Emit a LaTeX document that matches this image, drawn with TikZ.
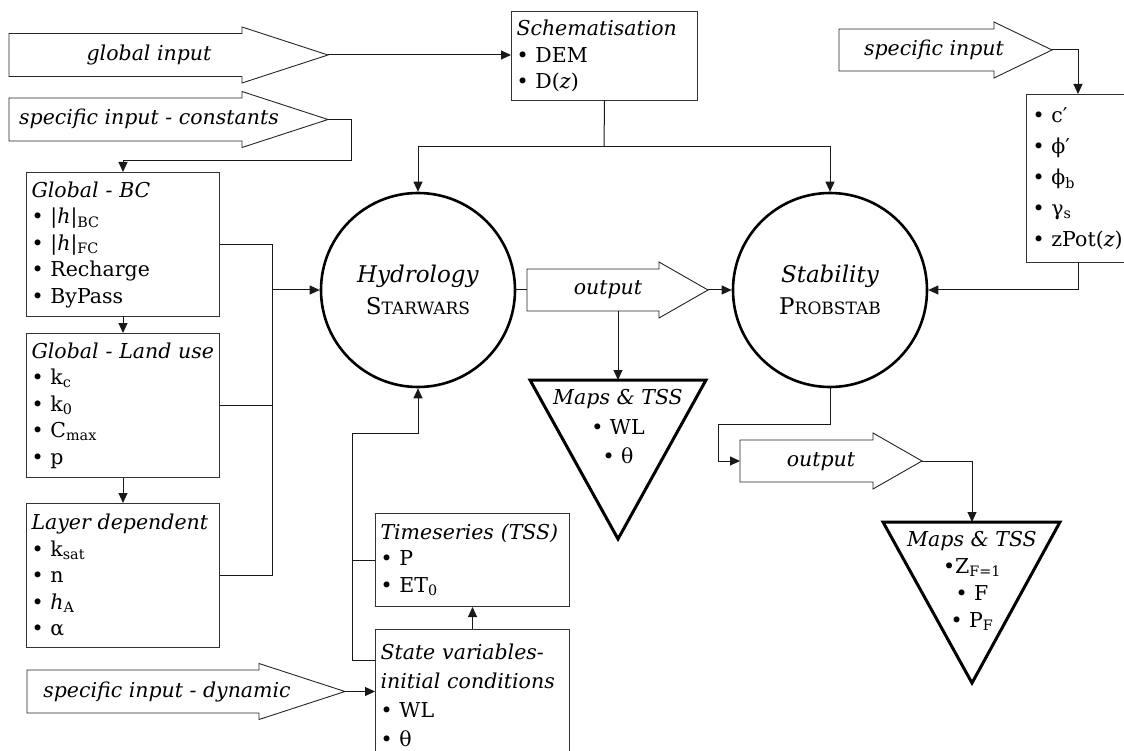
\documentclass[tikz,border=0pt]{standalone}
\usepackage{fontspec}
\setmainfont{DejaVu Serif}
\usetikzlibrary{arrows.meta,calc}
\newcommand\blkarrow[6]{%
  \draw[blk] (#2,#5-#6) -- (#3,#5-#6) -- (#3,#5-28) -- (#4,#5) -- (#3,#5+28) -- (#3,#5+#6) -- (#2,#5+#6) -- cycle;
  \coordinate (#1tip) at (#4,#5);
  \coordinate (#1tail) at (#2,#5);}
\begin{document}
\begin{tikzpicture}[x=1pt,y=-1pt,
  txt/.style={font=\fontsize{20.5}{26.5}\selectfont\itshape, inner sep=0pt},
  infobox/.style={draw=black!80, line width=1pt, align=left, anchor=north west, inner sep=5pt, font=\fontsize{20.5}{26.5}\selectfont},
  model/.style={circle, draw, line width=2.6pt, minimum size=194pt, align=center, inner sep=0pt, font=\fontsize{23}{32}\selectfont},
  blk/.style={draw=black!85, line width=0.9pt, fill=white},
  conn/.style={draw=black!90, line width=1pt, -{Triangle[length=10pt,width=9pt]}},
  plain/.style={draw=black!90, line width=1pt},
  tri/.style={draw, line width=3pt, line join=miter},
  tritxt/.style={align=center, inner sep=0pt}
]
\useasboundingbox (0,0) rectangle (1124,751);
\clip (0,0) rectangle (1124,751);

% ---- block arrows ----
\blkarrow{gin}{9}{242}{328}{55}{21.5}
\node[txt] (gintxt) at (149,55) {global input};
\blkarrow{cin}{9}{242}{328}{119.5}{21.5}
\node[txt] (cintxt) at (149,119) {specific input - constants};
\blkarrow{din}{27}{259}{345}{691.5}{21.5}
\node[txt] (dintxt) at (167,692) {specific input - dynamic};
\blkarrow{sin}{839}{994}{1052}{50}{21}
\node[txt] (sintxt) at (934,50) {specific input};
\blkarrow{outa}{527}{659}{708}{290}{21}
\node[txt] (outatxt) at (608,290) {output};
\blkarrow{outb}{740}{873}{922}{461}{21}
\node[txt] (outbtxt) at (821,462) {output};

% ---- boxes ----
\node[infobox, text width=176pt, minimum height=89pt] (schem) at (511,11)
  {\textit{Schematisation}\\• DEM\\• D(\textit{z})};
\node[infobox, text width=183pt, minimum height=144pt] (gbc) at (26,172)
  {\textit{Global - BC}\\• |\textit{h}|\textsubscript{BC}\\• |\textit{h}|\textsubscript{FC}\\• Recharge\\• ByPass};
\node[infobox, text width=183pt, minimum height=144pt] (lu) at (26,333)
  {\textit{Global - Land use}\\• k\textsubscript{c}\\• k\textsubscript{0}\\• C\textsubscript{max}\\• p};
\node[infobox, text width=183pt, minimum height=144pt] (ld) at (26,503)
  {\textit{Layer dependent}\\• k\textsubscript{sat}\\• n\\• \textit{h}\textsubscript{A}\\• α};
\node[infobox, text width=100pt, minimum height=168pt, inner sep=6pt, font=\fontsize{20.5}{31}\selectfont] (params) at (1026,94)
  {• c′\\• ϕ′\\• ϕ\textsubscript{b}\\• γ\textsubscript{s}\\• zPot(\textit{z})};
\node[infobox, text width=184pt, minimum height=93pt] (ts) at (375,513)
  {\textit{Timeseries (TSS)}\\• P\\• ET\textsubscript{0}};
\node[infobox, text width=184pt, minimum height=131pt, font=\fontsize{20.5}{29}\selectfont] (state) at (375,629)
  {\textit{State variables-}\\\textit{initial conditions}\\• WL\\• θ};

% ---- models ----
\node[model] (hyd) at (418,290) {\textit{Hydrology}\\S{\fontsize{17}{17}\selectfont TARWARS}};
\node[model] (stab) at (830,290) {\textit{Stability}\\P{\fontsize{17}{17}\selectfont ROBSTAB}};

% ---- output triangles ----
\coordinate (tria) at (618,380);
\draw[tri] (530,380) -- (706,380) -- (618,539) -- cycle;
\node[tritxt, font=\fontsize{20.5}{29.5}\selectfont] (triatxt) at (618,427)
  {\textit{Maps \& TSS}\\• WL\\• θ};
\coordinate (trib) at (972,522);
\draw[tri] (883,522) -- (1060,522) -- (972,683) -- cycle;
\node[tritxt, font=\fontsize{20.5}{27}\selectfont] (tribtxt) at (972,581)
  {\textit{Maps \& TSS}\\•Z\textsubscript{F=1}\\• F\\• P\textsubscript{F}};

% ---- connectors ----
\draw[conn] (gintip) -- (gintip -| schem.west);
\coordinate (cbend) at (351,161);
\draw[conn] (cintip) -| (cbend) -| (gbc.north);
\draw[conn] (gbc.south) -- (lu.north);
\draw[conn] (lu.south) -- (ld.north);
\coordinate (busL) at (272,290);
\draw[plain] (gbc.east) -- (gbc.east -| busL) -- (ld.east -| busL) -- (ld.east);
\draw[plain] (lu.east) -- (lu.east -| busL);
\draw[conn] (busL) -- (hyd.west);
\coordinate (sbus) at (604,147);
\draw[plain] (schem.south) -- (sbus);
\draw[conn] (sbus) -| (hyd.north);
\draw[conn] (sbus) -| (stab.north);
\coordinate (ptop) at ($(params.north west)+(52,0)$);
\coordinate (pbot) at ($(params.south west)+(52,0)$);
\draw[conn] (sintip) -| (ptop);
\draw[conn] (pbot) |- (stab.east);
\draw[plain] (hyd.east) -- (outatail);
\draw[conn] (outatip) -- (stab.west);
\coordinate (outadown) at (618,311);
\draw[conn] (outadown) -- (tria);
\coordinate (sbend) at (718,424);
\draw[conn] (stab.south) |- (sbend) |- (outbtail);
\draw[conn] (outbtip) -| (trib);
\draw[conn] (state.north) -- (ts.south);
\coordinate (stin) at ($(state.north west)+(0,31)$);
\coordinate (lbus) at (352,433);
\draw[conn] (stin) -| (lbus) -| (hyd.south);
\draw[plain] (ts.west) -- (ts.west -| lbus);
\draw[conn] (dintip) -- (dintip -| state.west);
\end{tikzpicture}
\end{document}
